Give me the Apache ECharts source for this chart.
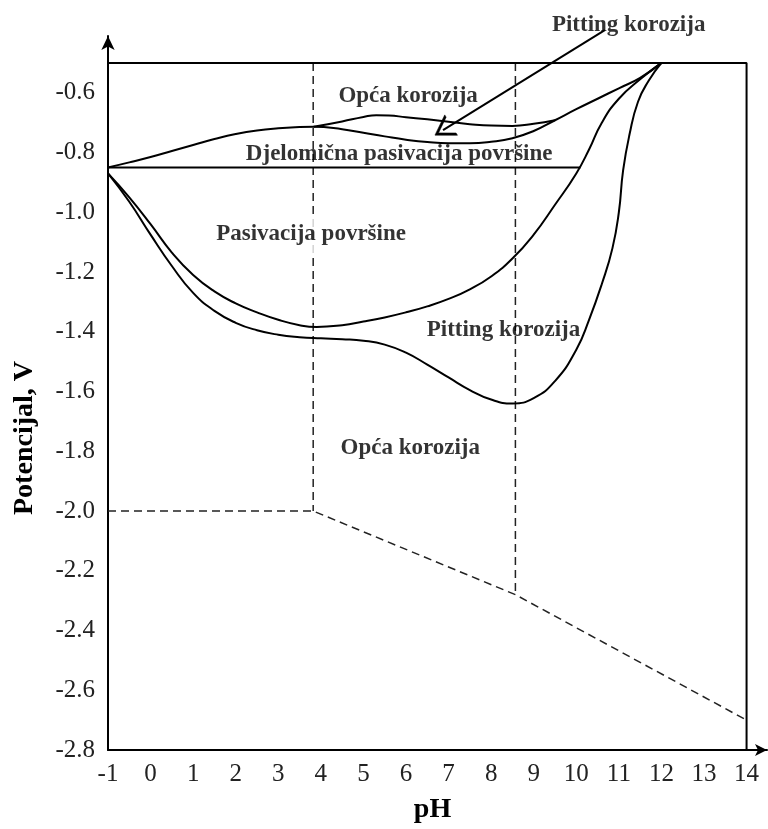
<!DOCTYPE html>
<html><head><meta charset="utf-8">
<script src="https://cdn.jsdelivr.net/npm/echarts@6/dist/echarts.min.js"></script>
<style>html,body{margin:0;padding:0;background:#fff}#c{width:768px;height:829px}</style>
</head><body><div id="c"></div>
<script>
// ---- data (pH, potential V) ----
const borderLine = [[-1,-0.5],[14,-0.5],[14,-2.8]];
const partialPassLine = [[-1,-0.85],[10.1,-0.85]];
const upperWavy = [[-1,-0.85],[-0.5,-0.833],[0,-0.815],[0.5,-0.795],[1,-0.775],[1.5,-0.755],[2,-0.738],[2.5,-0.726],[3,-0.719],[3.5,-0.715],[3.83,-0.714],[4.5,-0.722],[5,-0.734],[5.5,-0.746],[6,-0.757],[6.5,-0.765],[7,-0.769],[7.5,-0.769],[8,-0.764],[8.5,-0.752],[9,-0.728],[9.5,-0.692],[10,-0.655],[10.5,-0.62],[11,-0.585],[11.5,-0.55],[12,-0.5]];
const generalCorrTop = [[3.83,-0.714],[4.5,-0.696],[5,-0.681],[5.3,-0.675],[5.6,-0.676],[6,-0.682],[6.5,-0.689],[7,-0.697],[7.5,-0.705],[8,-0.71],[8.5,-0.711],[9,-0.704],[9.5,-0.692]];
const passivationCurve = [[-1,-0.87],[-0.5,-0.95],[0,-1.04],[0.5,-1.135],[1,-1.21],[1.5,-1.265],[2,-1.305],[2.5,-1.335],[3,-1.36],[3.5,-1.378],[3.9,-1.384],[4.5,-1.378],[5,-1.366],[5.5,-1.352],[6,-1.335],[6.5,-1.315],[7,-1.29],[7.5,-1.258],[8,-1.215],[8.5,-1.155],[9,-1.075],[9.5,-0.975],[10,-0.87],[10.3,-0.79],[10.6,-0.70],[11,-0.62],[11.5,-0.555],[12,-0.5]];
const pittingCurve = [[-1,-0.87],[-0.5,-0.965],[0,-1.075],[0.5,-1.18],[1,-1.27],[1.5,-1.33],[2,-1.37],[2.5,-1.395],[3,-1.41],[3.5,-1.418],[4,-1.422],[4.5,-1.425],[5,-1.43],[5.5,-1.443],[6,-1.47],[6.5,-1.51],[7,-1.553],[7.5,-1.595],[8,-1.627],[8.5,-1.64],[9,-1.622],[9.5,-1.565],[10,-1.46],[10.3,-1.36],[10.6,-1.24],[10.85,-1.12],[11,-1.0],[11.1,-0.86],[11.25,-0.74],[11.45,-0.63],[11.7,-0.56],[12,-0.5]];
const dashedFloor = [[-1,-2.0],[3.82,-2.0],[8.57,-2.28],[14,-2.70]];
const dashedV1 = [[3.82,-0.5],[3.82,-2.0]];
const dashedV2 = [[8.57,-0.5],[8.57,-2.28]];
const arrowStart = [10.67,-0.39];
const arrowEnd = [6.87,-0.725];
const labelTexts = ['Pitting korozija','Opća korozija','Djelomična pasivacija površine','Pasivacija površine','Pitting korozija','Opća korozija'];
const labelX = [11.23, 6.05, 5.84, 3.77, 8.29, 6.1];
const labelY = [-0.373, -0.61, -0.805, -1.072, -1.395, -1.79];
const xName = 'pH';
const yName = 'Potencijal, V';

const serif = '"Liberation Serif","Times New Roman",serif';
const chart = echarts.init(document.getElementById('c'), null, {renderer:'canvas'});

function solid(name, data){
  return {name, type:'line', data, smooth:0.5, symbol:'none', clip:false,
    lineStyle:{color:'#000', width:2}, silent:true, z:3};
}
function dashed(name, data){
  return {name, type:'line', data, symbol:'none', clip:false,
    lineStyle:{color:'#222', width:1.5, type:[8,5]}, silent:true, z:2};
}

const labelData = labelTexts.map((t,i)=>{
  const d = {value:[labelX[i], labelY[i]], name:t};
  if (i === 3) d.label = {backgroundColor:'#fff', padding:[8,0,8,0]};
  return d;
});

const chevron = 'path://M5,0 L10,10 L8.9,10 L5,2.2 L1.1,10 L0,10 Z';

chart.setOption({
  animation:false,
  backgroundColor:'#fff',
  grid:{left:108, right:1, top:36, bottom:68, containLabel:false},
  xAxis:{type:'value', min:-1, max:14.48, interval:1,
    name:xName, nameLocation:'middle', nameGap:46,
    nameTextStyle:{fontFamily:serif, fontWeight:'bold', fontSize:28, color:'#000', padding:[0,10,0,0]},
    axisLine:{show:true, lineStyle:{color:'#000', width:2}, symbol:['none','arrow'], symbolSize:[9,12]},
    axisTick:{show:false}, splitLine:{show:false},
    axisLabel:{fontFamily:serif, fontSize:25, color:'#222', margin:12, showMaxLabel:false}},
  yAxis:{type:'value', min:-2.8, max:-0.41, interval:0.2,
    axisLine:{show:true, onZero:false, lineStyle:{color:'#000', width:2}, symbol:['none','arrow'], symbolSize:[10,14]},
    axisTick:{show:false}, splitLine:{show:false},
    axisLabel:{fontFamily:serif, fontSize:25, color:'#222', margin:13, showMaxLabel:false,
      formatter:v=>v.toFixed(1)}},
  graphic:[{type:'text', x:25, y:438, rotation:Math.PI/2, silent:true,
    style:{text:yName, font:'bold 28px '+serif, fontFamily:serif, fontWeight:'bold', fontSize:28,
      fill:'#000', align:'center', verticalAlign:'middle', textAlign:'center', textVerticalAlign:'middle'}}],
  series:[
    {name:'border', type:'line', data:borderLine, symbol:'none', clip:false, lineStyle:{color:'#000', width:2}, silent:true},
    {name:'partial passivation', type:'line', data:partialPassLine, symbol:'none', clip:false, lineStyle:{color:'#000', width:2}, silent:true},
    solid('upper wavy', upperWavy),
    solid('general corrosion top', generalCorrTop),
    solid('passivation', passivationCurve),
    solid('pitting', pittingCurve),
    dashed('dash floor', dashedFloor),
    dashed('dash v1', dashedV1),
    dashed('dash v2', dashedV2),
    {name:'arrow', type:'line', clip:false, silent:true, showSymbol:true, showAllSymbol:true,
      lineStyle:{color:'#000', width:2}, itemStyle:{color:'#000', borderColor:'#000', borderWidth:0.5},
      data:[{value:arrowStart, symbol:'none'},
            {value:arrowEnd, symbol:chevron, symbolSize:[24,19], symbolRotate:122}]},
    {name:'labels', type:'scatter', data:labelData, symbolSize:0, clip:false, silent:true, z:5,
      label:{show:true, position:'inside', formatter:'{b}', fontFamily:serif, fontWeight:'bold', fontSize:23, color:'#000'}}
  ]
});
</script></body></html>
